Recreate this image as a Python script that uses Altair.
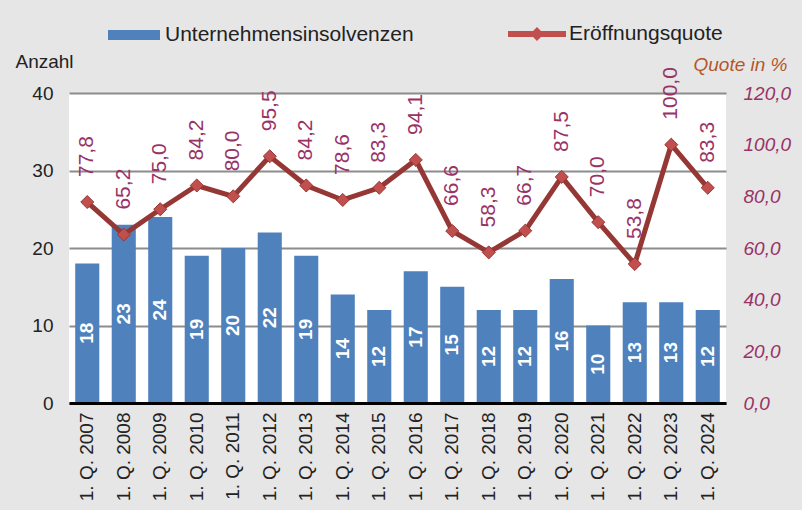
import altair as alt
import pandas as pd

quarters = ["1. Q. 2007", "1. Q. 2008", "1. Q. 2009", "1. Q. 2010", "1. Q. 2011",
            "1. Q. 2012", "1. Q. 2013", "1. Q. 2014", "1. Q. 2015", "1. Q. 2016",
            "1. Q. 2017", "1. Q. 2018", "1. Q. 2019", "1. Q. 2020", "1. Q. 2021",
            "1. Q. 2022", "1. Q. 2023", "1. Q. 2024"]
insolvenzen = [18, 23, 24, 19, 20, 22, 19, 14, 12, 17, 15, 12, 12, 16, 10, 13, 13, 12]
quote = [77.8, 65.2, 75.0, 84.2, 80.0, 95.5, 84.2, 78.6, 83.3, 94.1,
         66.6, 58.3, 66.7, 87.5, 70.0, 53.8, 100.0, 83.3]
left_ticks = [0, 10, 20, 30, 40]
right_ticks = [0, 20, 40, 60, 80, 100, 120]
series_names = ["Unternehmensinsolvenzen", "Eröffnungsquote"]

df = pd.DataFrame({"quarter": quarters, "anzahl": insolvenzen, "quote": quote})
df["s1"] = series_names[0]
df["s2"] = series_names[1]

FONT = "Liberation Sans"
TXT = "#222222"
PLUM = "#993366"

base = alt.Chart(df)

x_enc = alt.X(
    "quarter:N", sort=quarters,
    scale=alt.Scale(paddingInner=0.34, paddingOuter=0.17),
    axis=alt.Axis(title=None, labelAngle=270, labelFontSize=19, labelColor=TXT,
                  labelPadding=9, ticks=False, domainColor="#000000", domainWidth=3,
                  grid=False, zindex=1),
)

left_scale = alt.Scale(domain=[0, 40])
right_scale = alt.Scale(domain=[0, 120])

left_axis = alt.Axis(values=left_ticks, title="Anzahl", titleAngle=0, titleX=-54, titleY=-26,
                     titleAlign="left", titleBaseline="alphabetic", titleFontSize=19,
                     titleFontWeight="normal", titleColor=TXT, labelFontSize=19,
                     labelColor=TXT, labelPadding=16, ticks=False, domain=False,
                     grid=True, gridColor="#8c8c8c", gridWidth=2)

right_axis = alt.Axis(orient="right", values=right_ticks,
                      labelExpr="replace(format(datum.value, '.1f'), '.', ',')",
                      labelFontStyle="italic", labelColor=PLUM, labelFontSize=19,
                      labelPadding=17, labelAlign="left", ticks=False, domain=False, grid=False,
                      title="Quote in %", titleAngle=0, titleX=61, titleY=-23,
                      titleAlign="right", titleBaseline="alphabetic", titleFontStyle="italic",
                      titleColor="#b5562b", titleFontWeight="normal", titleFontSize=19)

bars = base.mark_bar().encode(
    x=x_enc, y=alt.Y("anzahl:Q", scale=left_scale, axis=left_axis),
    color=alt.Color("s1:N", scale=alt.Scale(domain=[series_names[0]], range=["#4f81bd"]),
                    legend=alt.Legend(orient="none", legendX=38, legendY=-85, title=None,
                                      symbolType="M-1,-0.19H1V0.19H-1Z", symbolSize=2704,
                                      labelOffset=4, labelFontSize=21, labelColor=TXT,
                                      labelLimit=500, padding=0)),
)

bar_labels = base.transform_calculate(mid="datum.anzahl / 2").mark_text(
    angle=270, align="center", baseline="middle", fontWeight="bold", fontSize=19,
    color="white", font=FONT,
).encode(x=x_enc, y=alt.Y("mid:Q", scale=left_scale, axis=left_axis), text="anzahl:Q")

left = alt.layer(bars, bar_labels)

line = base.mark_line(color="#953735", strokeWidth=5).encode(
    x=x_enc, y=alt.Y("quote:Q", scale=right_scale, axis=right_axis))

points = base.mark_point(filled=True, shape="diamond", size=170, opacity=1,
                         stroke="#9b3432", strokeWidth=1).encode(
    x=x_enc, y=alt.Y("quote:Q", scale=right_scale, axis=right_axis),
    color=alt.Color("s2:N", scale=alt.Scale(domain=[series_names[1]], range=["#c0504d"]),
                    legend=alt.Legend(orient="none", legendX=439, legendY=-88, title=None,
                                      symbolType="M-1,-0.1H1V0.1H-1Z M-0.24,0L0,-0.24L0.24,0L0,0.24Z",
                                      symbolSize=3364, labelOffset=3, labelFontSize=21,
                                      labelColor=TXT, labelLimit=500, padding=0,
                                      symbolStrokeWidth=0)),
)

line_labels = base.transform_calculate(
    lbl="replace(format(datum.quote, '.1f'), '.', ',')"
).mark_text(angle=270, align="left", baseline="middle", dx=25, fontSize=21,
            color=PLUM, font=FONT).encode(
    x=x_enc, y=alt.Y("quote:Q", scale=right_scale, axis=right_axis), text="lbl:N")

right = alt.layer(line, points, line_labels)

chart = alt.layer(left, right).resolve_scale(y="independent", color="independent").properties(
    width=657, height=310,
    autosize=alt.AutoSizeParams(type="none"),
    padding={"left": 69, "top": 93, "right": 76, "bottom": 107},
    background="#e6e6e6",
).configure_view(fill="white", stroke=None).configure_axis(
    labelFont=FONT, titleFont=FONT
).configure_legend(labelFont=FONT)

chart.save("out.html", embed_options={"renderer": "svg", "actions": False})
